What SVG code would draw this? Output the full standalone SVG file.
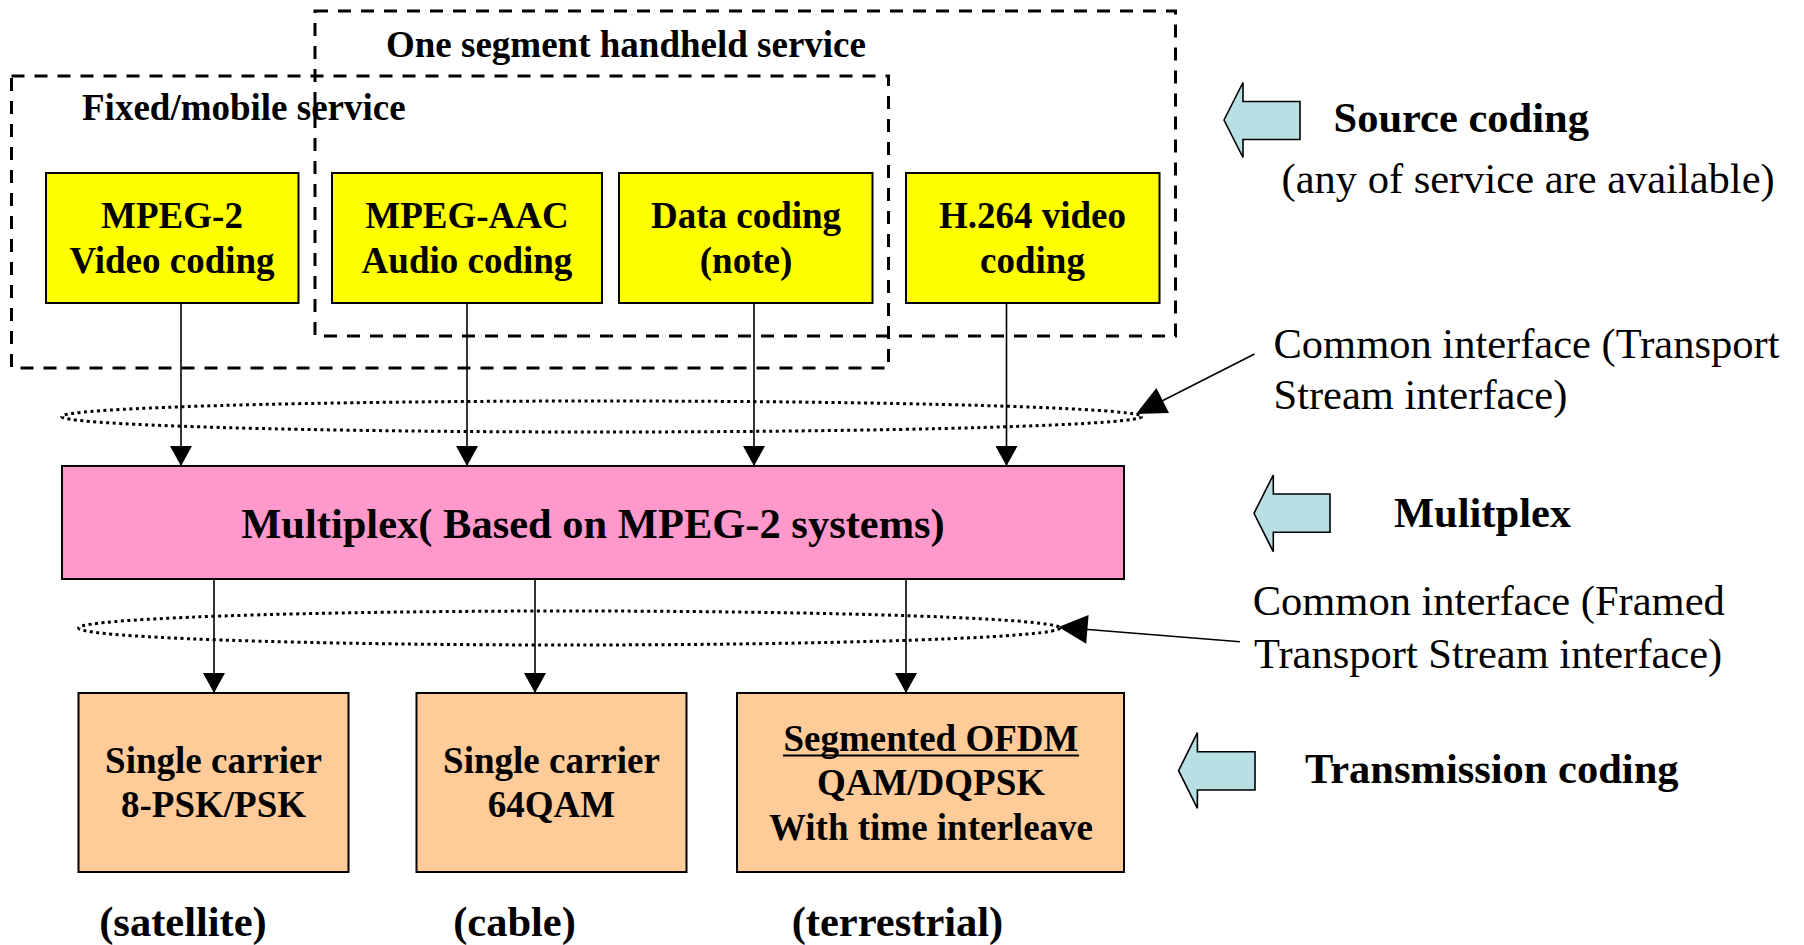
<svg xmlns="http://www.w3.org/2000/svg" width="1804" height="945" viewBox="0 0 1804 945">
<style>
text{font-family:"Liberation Serif","Times New Roman",serif;fill:#000}
.b{font-weight:bold}
.box{stroke:#000;stroke-width:2}
.dash{fill:none;stroke:#000;stroke-width:3;stroke-dasharray:13 10}
.dot{fill:none;stroke:#000;stroke-width:3;stroke-dasharray:3 3.5}
.ln{stroke:#000;stroke-width:1.6;fill:none}
.blk{fill:#B8DFE3;stroke:#000;stroke-width:1.6}
.t37{font-size:37px;text-anchor:middle}
.t42{font-size:42.5px}
</style>
<defs>
<marker id="ah" markerUnits="userSpaceOnUse" markerWidth="20" markerHeight="22" refX="20" refY="11" orient="auto">
<path d="M0,0 L20,11 L0,22 z" fill="#000"/>
</marker>
</defs>
<rect width="1804" height="945" fill="#fff"/>

<g id="group-one-segment">
<rect class="dash" x="315" y="11" width="860.5" height="325"/>
<text class="b" x="386" y="57" font-size="37">One segment handheld service</text>
</g>
<g id="group-fixed-mobile">
<rect class="dash" x="11.5" y="76" width="877" height="292"/>
<text class="b" x="82" y="120" font-size="37">Fixed/mobile service</text>
</g>

<g id="node-mpeg2">
<rect class="box" x="46" y="173" width="252.5" height="130" fill="#FFFF00"/>
<text class="b t37" x="172" y="228">MPEG-2</text>
<text class="b t37" x="172" y="273">Video coding</text>
</g>
<g id="node-aac">
<rect class="box" x="332" y="173" width="270" height="130" fill="#FFFF00"/>
<text class="b t37" x="467" y="228">MPEG-AAC</text>
<text class="b t37" x="467" y="273">Audio coding</text>
</g>
<g id="node-data">
<rect class="box" x="619" y="173" width="253.5" height="130" fill="#FFFF00"/>
<text class="b t37" x="746" y="228">Data coding</text>
<text class="b t37" x="746" y="273">(note)</text>
</g>
<g id="node-h264">
<rect class="box" x="906" y="173" width="253.5" height="130" fill="#FFFF00"/>
<text class="b t37" x="1032.5" y="228">H.264 video</text>
<text class="b t37" x="1032.5" y="273">coding</text>
</g>

<g id="node-multiplex">
<rect class="box" x="62" y="466" width="1062" height="113" fill="#FF99CC"/>
<text class="b" x="593" y="537.5" font-size="42.5" text-anchor="middle">Multiplex( Based on MPEG-2 systems)</text>
</g>

<g id="node-satellite">
<rect class="box" x="78.5" y="693" width="270" height="179" fill="#FFCC99"/>
<text class="b t37" x="213.5" y="773">Single carrier</text>
<text class="b t37" x="213.5" y="817">8-PSK/PSK</text>
</g>
<g id="node-cable">
<rect class="box" x="416.5" y="693" width="270" height="179" fill="#FFCC99"/>
<text class="b t37" x="551.5" y="773">Single carrier</text>
<text class="b t37" x="551.5" y="817">64QAM</text>
</g>
<g id="node-terrestrial">
<rect class="box" x="737" y="693" width="387" height="179" fill="#FFCC99"/>
<text class="b t37" x="931" y="751">Segmented OFDM</text>
<line x1="783" y1="755.5" x2="1079" y2="755.5" stroke="#000" stroke-width="2.2"/>
<text class="b t37" x="931" y="794.5">QAM/DQPSK</text>
<text class="b t37" x="931" y="839.5">With time interleave</text>
</g>

<g id="bottom-labels">
<text class="b t42" x="183" y="936" text-anchor="middle">(satellite)</text>
<text class="b t42" x="514.5" y="936" text-anchor="middle">(cable)</text>
<text class="b t42" x="897.5" y="936" text-anchor="middle">(terrestrial)</text>
</g>

<g id="interface-ellipses">
<ellipse class="dot" cx="601.7" cy="416.5" rx="540" ry="15.5"/>
<ellipse class="dot" cx="569.2" cy="628" rx="490.6" ry="17"/>
</g>

<g id="connectors">
<line class="ln" x1="181" y1="303" x2="181" y2="466" marker-end="url(#ah)"/>
<line class="ln" x1="467" y1="303" x2="467" y2="466" marker-end="url(#ah)"/>
<line class="ln" x1="754" y1="303" x2="754" y2="466" marker-end="url(#ah)"/>
<line class="ln" x1="1006.5" y1="303" x2="1006.5" y2="466" marker-end="url(#ah)"/>
<line class="ln" x1="214" y1="579" x2="214" y2="693" marker-end="url(#ah)"/>
<line class="ln" x1="535" y1="579" x2="535" y2="693" marker-end="url(#ah)"/>
<line class="ln" x1="906" y1="579" x2="906" y2="693" marker-end="url(#ah)"/>
<line class="ln" x1="1254.5" y1="354" x2="1160" y2="402" stroke-width="2"/>
<polygon points="1136,414 1156.4,387.9 1169,412.9" fill="#000"/>
<line class="ln" x1="1240" y1="641.7" x2="1085" y2="629.2" stroke-width="2"/>
<polygon points="1058.5,627 1088.6,614.9 1086.2,643.8" fill="#000"/>
</g>

<g id="label-source-coding">
<polygon class="blk" points="1224,120 1243,82.5 1243,101.5 1300,101.5 1300,139.5 1243,139.5 1243,157.5"/>
<text class="b t42" x="1333.5" y="131.7">Source coding</text>
<text class="t42" x="1281.5" y="193">(any of service are available)</text>
</g>
<g id="label-ts-interface">
<text class="t42" x="1273.5" y="358.3">Common interface (Transport</text>
<text class="t42" x="1273.5" y="409.3">Stream interface)</text>
</g>
<g id="label-multiplex">
<polygon class="blk" points="1254,513.3 1273.3,475 1273.3,494 1330,494 1330,532.3 1273.3,532.3 1273.3,551.7"/>
<text class="b t42" x="1394" y="526.7">Mulitplex</text>
</g>
<g id="label-fts-interface">
<text class="t42" x="1252.7" y="615">Common interface (Framed</text>
<text class="t42" x="1254" y="668">Transport Stream interface)</text>
</g>
<g id="label-transmission">
<polygon class="blk" points="1178.6,770.7 1197.4,732.7 1197.4,751.7 1255,751.7 1255,790 1197.4,790 1197.4,808.3"/>
<text class="b t42" x="1305" y="782.7">Transmission coding</text>
</g>
</svg>
